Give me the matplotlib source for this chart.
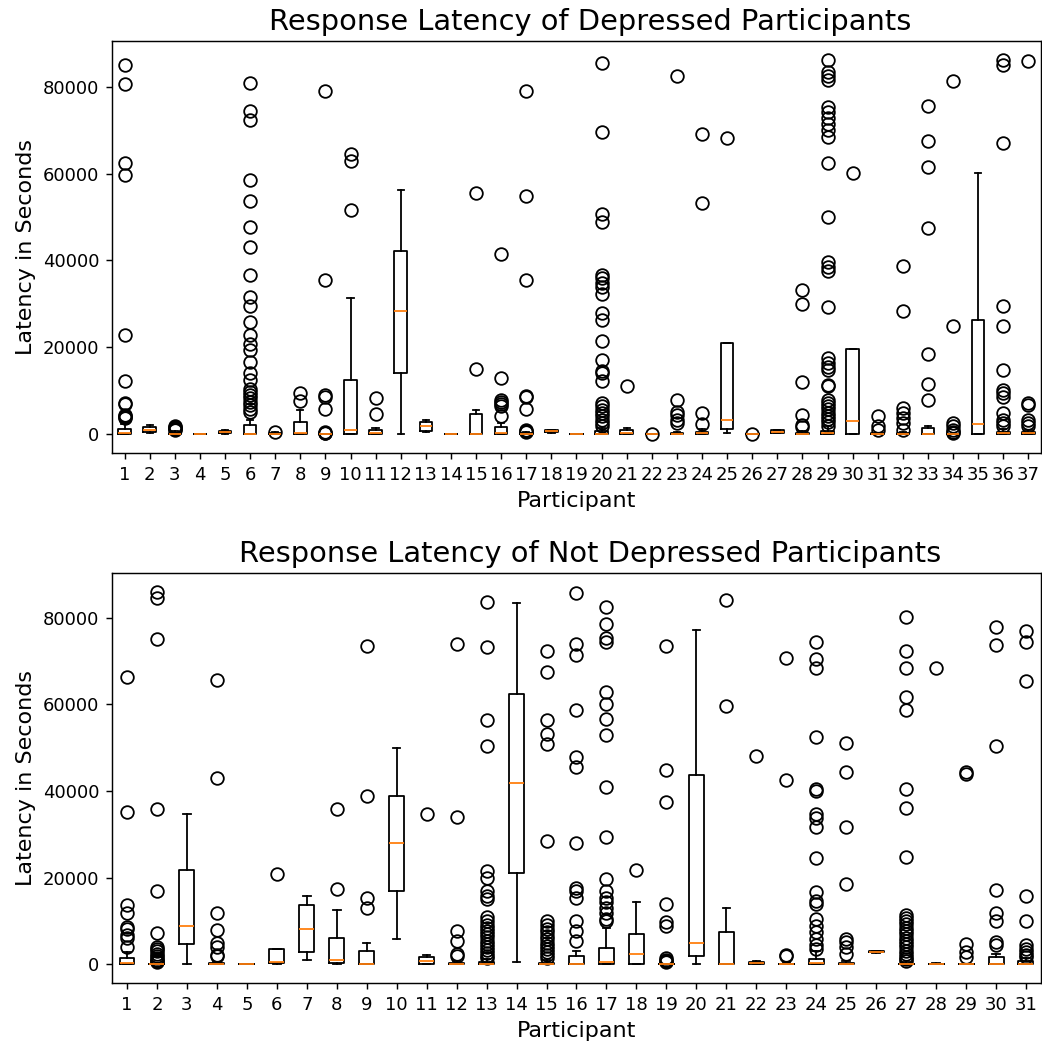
import matplotlib
matplotlib.use("Agg")
import matplotlib.pyplot as plt

# ---- Depressed participants (values in seconds) ----
dep_q1 = [0, 600, 0, 0, 300, 0, 0, 0, 0, 0, 0, 14200, 840, 0, 0, 0, 0, 500, 0,
          0, 0, 0, 0, 0, 1150, 0, 400, 0, 0, 0, 0, 0, 0, 0, 0, 0, 0]
dep_med = [250, 1100, 50, 30, 500, 100, 100, 400, 0, 1000, 400, 28300, 2000, 50, 100, 200, 100, 700, 50,
           100, 400, 0, 50, 200, 3300, 0, 600, 50, 200, 3100, 0, 0, 50, 0, 2400, 200, 200]
dep_q3 = [1200, 1700, 300, 80, 700, 2150, 300, 2800, 50, 12600, 1000, 42100, 2900, 100, 4700, 1600, 300, 900, 100,
          700, 1100, 0, 300, 600, 20900, 0, 900, 300, 800, 19600, 200, 200, 1400, 100, 26400, 600, 500]
dep_lo = [0, 200, 0, 0, 150, 0, 0, 0, 0, 0, 0, 0, 460, 0, 0, 0, 0, 300, 0,
          0, 0, 0, 0, 0, 200, 0, 300, 0, 0, 0, 0, 0, 0, 0, 0, 0, 0]
dep_hi = [2400, 2100, 700, 150, 900, 3300, 500, 5600, 100, 31400, 1500, 56200, 3300, 150, 5600, 2500, 500, 1100, 150,
          1500, 1500, 0, 600, 1200, 20900, 0, 1100, 700, 1800, 19600, 400, 500, 2000, 150, 60200, 1300, 1000]
dep_fliers = [
    [84900, 80600, 62400, 59700, 22800, 12300, 7300, 7000, 4500, 4200, 4000, 3700],
    [],
    [900, 1200, 1400, 1600, 1800],
    [],
    [],
    [80900, 74400, 72300, 58500, 53800, 47600, 43000, 36600, 31700, 29600, 25800, 22800, 20700,
     19400, 16600, 14100, 12600, 10400, 9700, 9000, 8300, 7500, 6700, 5900, 5100],
    [600],
    [9600, 7700],
    [79000, 35400, 9000, 8600, 5800, 600, 400, 250],
    [64400, 62800, 51700],
    [8300, 4600],
    [],
    [],
    [],
    [55600, 15000],
    [41600, 12900, 7900, 7500, 7000, 6600, 4100],
    [79000, 54800, 35400, 8800, 8500, 5800, 1000, 800, 600],
    [],
    [],
    [85500, 69600, 50800, 48900, 36600, 35900, 34900, 33900, 32400, 28000, 26300, 21500, 17200,
     14600, 14000, 12300, 7100, 6400, 5600, 4800, 4100, 3300, 2500, 2000],
    [11100],
    [150],
    [82400, 8000, 5200, 4400, 3300, 2500],
    [69200, 53200, 5000, 2400],
    [68300],
    [100],
    [],
    [33300, 30100, 12100, 4400, 2100, 1700],
    [86200, 83400, 82400, 81500, 75300, 74200, 72900, 71500, 70000, 68400, 62400, 49900, 39700,
     38500, 37600, 29200, 17500, 16500, 15600, 14800, 11300, 11000, 7900, 7200, 6500, 5800,
     5000, 4300, 3500, 2800, 2000],
    [60200],
    [4200, 1800, 1000],
    [38700, 28400, 6000, 4800, 3700, 2500, 1000],
    [75600, 67400, 61500, 47400, 18500, 11600, 8000],
    [81200, 24900, 2500, 1800, 1000, 500, 300],
    [],
    [86200, 84900, 67000, 29600, 24900, 14800, 10200, 9400, 8500, 4800, 3300, 2500, 1800],
    [85800, 7100, 6700, 3300, 2500, 1800],
]

# ---- Not depressed participants ----
nd_q1 = [0, 0, 4600, 0, 0, 230, 2750, 300, 0, 16900, 150, 0, 0, 21200, 0, 0,
         0, 0, 0, 1900, 0, 200, 0, 0, 0, 2800, 0, 0, 0, 0, 0]
nd_med = [230, 0, 8900, 150, 0, 500, 8250, 900, 200, 27900, 700, 50, 200, 41900, 100, 200,
          500, 2400, 0, 5000, 100, 400, 50, 300, 100, 2900, 0, 50, 0, 200, 200]
nd_q3 = [1500, 100, 21800, 300, 50, 3500, 13800, 6200, 3100, 38900, 1700, 300, 500, 62400, 400, 1900,
         3700, 7000, 100, 43700, 7400, 500, 200, 1300, 300, 3050, 200, 150, 100, 1700, 800]
nd_lo = [0, 0, 0, 0, 0, 0, 900, 0, 0, 5900, 0, 0, 0, 500, 0, 0,
         0, 0, 0, 0, 0, 100, 0, 0, 0, 2700, 0, 0, 0, 0, 0]
nd_hi = [2800, 200, 34600, 600, 80, 3500, 15700, 12600, 5000, 49900, 2200, 800, 1200, 83300, 900, 3000,
         8500, 14400, 200, 77200, 12900, 700, 500, 3000, 700, 3200, 500, 300, 200, 2500, 1400]
nd_fliers = [
    [66200, 35200, 13700, 11800, 8600, 8200, 6700, 6000, 4100],
    [86000, 84600, 75000, 35800, 16900, 7200, 4000, 3500, 3000, 2500, 2000, 1500, 1000, 700, 500],
    [],
    [65500, 42900, 11800, 8000, 5000, 4000, 2200, 1900],
    [],
    [20900],
    [],
    [35800, 17500],
    [73500, 38900, 15300, 12900],
    [],
    [34700],
    [74000, 34100, 7800, 5300, 2400, 1900],
    [83600, 73200, 56400, 50300, 21500, 20000, 17000, 15700, 15000, 10900, 10000, 9200, 8500,
     7700, 7000, 6300, 5500, 4800, 4000, 3300, 2600, 2000, 1500],
    [],
    [72300, 67400, 56300, 53200, 50900, 28400, 9900, 9000, 8200, 7400, 6600, 5800, 5000, 4200,
     3500, 2800, 2100, 1500],
    [85700, 73900, 71400, 58800, 47900, 45500, 27900, 17700, 17000, 15400, 9900, 7800, 5300],
    [82500, 78500, 75400, 74300, 62800, 60100, 56600, 53000, 41000, 29400, 19600, 17000, 15400,
     14300, 13000, 11800, 10500, 10000],
    [21800],
    [73500, 44800, 37400, 13900, 9700, 8800, 1500, 1000, 700, 500],
    [],
    [84000, 59700],
    [48100],
    [70700, 42600, 2200, 1900],
    [74400, 70400, 68300, 52500, 40400, 40100, 34700, 33800, 31600, 24600, 16700, 14700, 13900,
     10500, 8900, 7400, 5900, 4400, 3500],
    [51000, 44400, 31600, 18500, 5900, 5100, 3900, 2500],
    [],
    [80200, 72300, 68300, 61800, 58800, 40400, 36100, 24800, 11400, 10800, 10000, 9300, 8500,
     7800, 7000, 6200, 5500, 4700, 4000, 3200, 2500, 1800, 1200, 800],
    [68300],
    [44500, 43900, 4700, 2800, 1700],
    [77900, 73700, 50300, 17100, 11800, 10100, 5100, 4500],
    [76900, 74300, 65300, 15700, 10100, 4400, 3600, 2800, 2100, 1600],
]


def make_stats(q1, med, q3, lo, hi, fliers):
    stats = []
    for i in range(len(med)):
        stats.append({"q1": q1[i], "med": med[i], "q3": q3[i],
                      "whislo": lo[i], "whishi": hi[i], "fliers": fliers[i]})
    return stats


FLIER = dict(marker="o", markersize=7, markerfacecolor="none",
             markeredgecolor="black", markeredgewidth=1.0)

fig = plt.figure(figsize=(1042 / 130, 1046 / 130), dpi=130)
ax1 = fig.add_axes([0.1075, 0.5669, 0.8915, 0.3939])
ax2 = fig.add_axes([0.1075, 0.0602, 0.8915, 0.3920])

ax1.bxp(make_stats(dep_q1, dep_med, dep_q3, dep_lo, dep_hi, dep_fliers),
        positions=range(1, len(dep_med) + 1), flierprops=FLIER)
ax1.set_title("Response Latency of Depressed Participants", fontsize=16, x=0.515)
ax1.set_xlabel("Participant", fontsize=12.3)
ax1.set_ylabel("Latency in Seconds", fontsize=12.3)

ax2.bxp(make_stats(nd_q1, nd_med, nd_q3, nd_lo, nd_hi, nd_fliers),
        positions=range(1, len(nd_med) + 1), flierprops=FLIER)
ax2.set_title("Response Latency of Not Depressed Participants", fontsize=16, x=0.515)
ax2.set_xlabel("Participant", fontsize=12.3)
ax2.set_ylabel("Latency in Seconds", fontsize=12.3)

fig.savefig("out.png", dpi=130)
